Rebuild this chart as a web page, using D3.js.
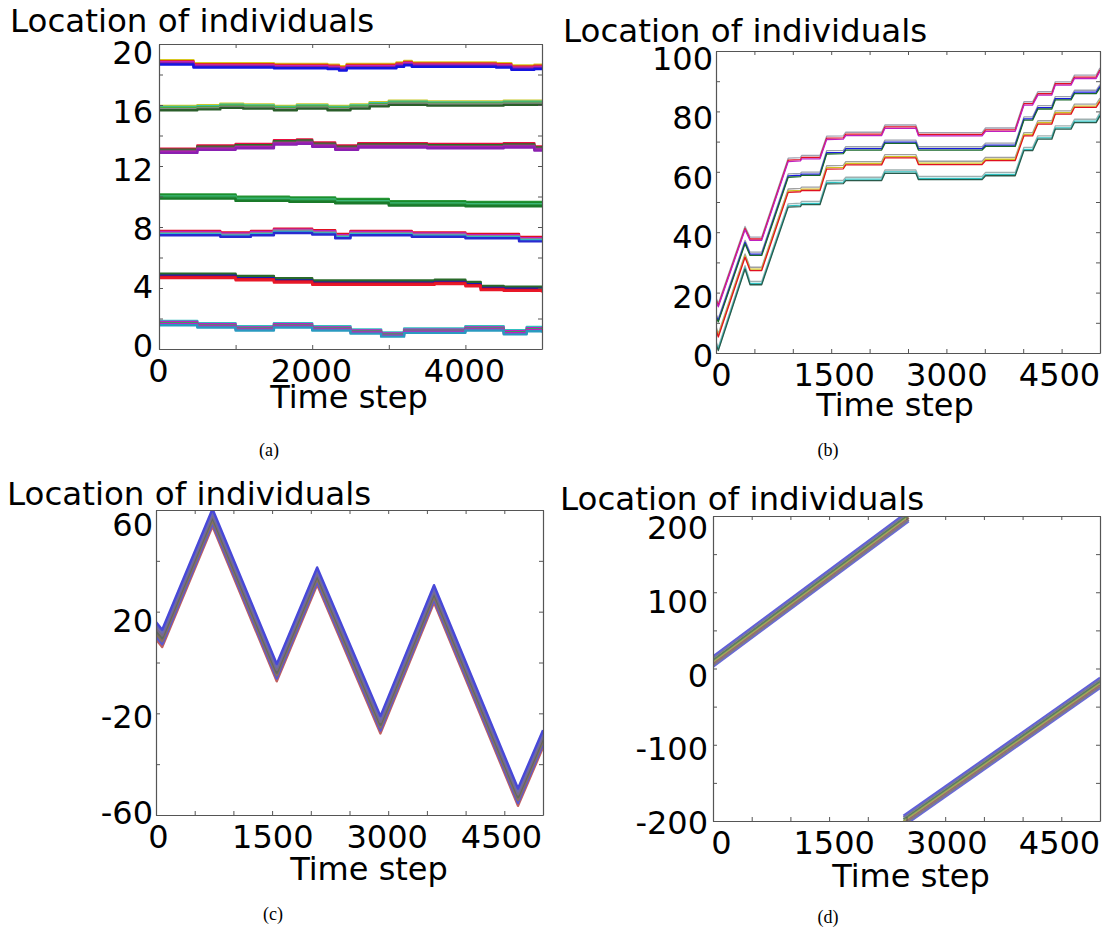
<!DOCTYPE html>
<html>
<head>
<meta charset="utf-8">
<script src="https://cdn.jsdelivr.net/npm/d3@7"></script>
<style>
  body { margin: 0; background: #fff; }
  svg { display: block; }
</style>
</head>
<body>
<svg id="fig" width="1107" height="934"></svg>
<script>
'use strict';

// ---- (a) seven groups drifting slowly: [time step, location] of each group ----
var groupA1 = [[0,18.8],[300,18.8],[450,18.6],[1500,18.55],[2200,18.5],[2350,18.4],[2450,18.55],[3100,18.65],[3200,18.75],[3300,18.65],[4400,18.6],[4600,18.45],[4900,18.5],[5000,18.55]];
var groupA2 = [[0,15.8],[500,15.85],[800,15.95],[1100,15.9],[1500,15.8],[1800,15.9],[2200,15.8],[2500,15.9],[2750,16.05],[3000,16.15],[3500,16.1],[4000,16.1],[4500,16.15],[5000,16.1]];
var groupA3 = [[0,13.0],[500,13.2],[1000,13.3],[1500,13.55],[1800,13.6],[2000,13.4],[2300,13.2],[2600,13.35],[3500,13.3],[4500,13.35],[4900,13.15],[5000,13.15]];
var groupA4 = [[0,10.0],[500,10.0],[1000,9.85],[1700,9.8],[2300,9.7],[3000,9.55],[4000,9.5],[5000,9.45]];
var groupA5 = [[0,7.6],[800,7.5],[1200,7.6],[1500,7.75],[2000,7.65],[2300,7.4],[2500,7.6],[3300,7.5],[4000,7.4],[4700,7.2],[5000,7.2]];
var groupA6 = [[0,4.8],[400,4.8],[1000,4.65],[1500,4.5],[2000,4.35],[3000,4.35],[3600,4.4],[4000,4.25],[4200,4.0],[4500,3.95],[5000,3.85]];
var groupA7 = [[0,1.7],[500,1.55],[1000,1.35],[1500,1.55],[2000,1.35],[2500,1.15],[2900,0.95],[3200,1.2],[4000,1.35],[4500,1.1],[4800,1.3],[5000,1.2]];
var groupsA = [groupA1, groupA2, groupA3, groupA4, groupA5, groupA6, groupA7];
// spread of the individuals inside one group (location units)
var spreadA = [0.14, 0.07, 0, -0.07, -0.14];

// ---- (b) four groups moving in steps ----
var groupB1 = [[0,17.5],[30,15.5],[378,41],[443,37.5],[595,37.5],[940,63.6],[1100,63.8],[1115,64.5],[1354,64.5],[1441,70.9],[1658,71],[1690,72.2],[2157,72.2],[2200,74.6],[2602,74.6],[2636,72.1],[3465,72.1],[3510,73.6],[3896,73.6],[4010,82.3],[4123,82.3],[4191,85.6],[4373,85.6],[4418,88.9],[4623,88.9],[4668,91.1],[4950,91.1],[5000,93.5]];
var groupB2 = [[0,12],[30,10.5],[378,36.4],[443,32.5],[595,32.5],[940,58.4],[1100,58.6],[1115,59],[1354,59],[1441,66.1],[1658,66.2],[1690,67.4],[2157,67.4],[2200,69.6],[2602,69.6],[2636,67.4],[3465,67.4],[3510,68.6],[3896,68.6],[4010,77.3],[4123,77.3],[4191,81],[4373,81],[4418,84],[4623,84],[4668,86.1],[4950,86.1],[5000,88]];
var groupB3 = [[0,8],[30,5.5],[378,31.9],[443,27.5],[595,27.5],[940,53.4],[1100,53.6],[1115,54],[1354,54],[1441,61.1],[1658,61.2],[1690,62.5],[2157,62.5],[2200,64.8],[2602,64.8],[2636,62.6],[3465,62.6],[3510,63.9],[3896,63.9],[4010,72.1],[4123,72.1],[4191,76],[4373,76],[4418,79.3],[4623,79.3],[4668,81.5],[4950,81.5],[5000,83.5]];
var groupB4 = [[0,3],[30,1],[378,28],[443,22.8],[595,22.8],[940,48.5],[1100,48.7],[1115,49.3],[1354,49.3],[1441,56.2],[1658,56.3],[1690,57.3],[2157,57.3],[2200,59.7],[2602,59.7],[2636,57.6],[3465,57.6],[3510,58.9],[3896,58.9],[4010,67.2],[4123,67.2],[4191,71],[4373,71],[4418,74.3],[4623,74.3],[4668,76.5],[4950,76.5],[5000,78.7]];
var groupsB = [groupB1, groupB2, groupB3, groupB4];
var spreadB = [0.9, 0.25, -0.2];

// ---- (c) one group zig-zagging ----
var groupC = [[0,12.5],[80,9.5],[730,57],[1560,-4],[2082,34],[2900,-24.5],[3592,27],[4677,-53],[5000,-30]];
var spreadC = [-3.4, -2.3, -1.1, 0, 1.1, 2.3, 3.4];

// ---- (d) one group travelling at constant speed, wrapping at +-200 ----
var groupD1 = [[0,9],[2530,200]];
var groupD2 = [[2460,-200],[5000,-19]];
var spreadD = [-7, -4.7, -2.3, 0, 2.3, 4.7, 7];

// ---- ticks ----
var ticksAx = [0, 1000, 2000, 3000, 4000, 5000];
var labelsAx = [0, 2000, 4000];
var ticksAy = [0, 2, 4, 6, 8, 10, 12, 14, 16, 18, 20];
var labelsAy = [0, 4, 8, 12, 16, 20];
var ticksX = [0, 500, 1000, 1500, 2000, 2500, 3000, 3500, 4000, 4500, 5000];
var labelsX = [0, 1500, 3000, 4500];
var ticksBy = [0, 10, 20, 30, 40, 50, 60, 70, 80, 90, 100];
var labelsBy = [0, 20, 40, 60, 80, 100];
var ticksCy = [-60, -40, -20, 0, 20, 40, 60];
var labelsCy = [-60, -20, 20, 60];
var ticksDy = [-200, -150, -100, -50, 0, 50, 100, 150, 200];
var labelsDy = [-200, -100, 0, 100, 200];

// ---- colours (styles, kept apart from the values) ----
var colorsA = [
    ['#d8c820', '#e03020', '#c020c0', '#8020a0', '#1515e0'],
    ['#c8c828', '#3cc0a8', '#4caa3c', '#8a8a8a', '#2a5e2a'],
    ['#e81040', '#2a6a2a', '#6a5a5a', '#b020b0', '#8a20b0'],
    ['#2a9a3a', '#1a8a2a', '#3cb87a', '#2a9a4a', '#1a7a2a'],
    ['#e01020', '#c020c0', '#8a8a8a', '#30b8c8', '#2a2ad0'],
    ['#2a6a2a', '#2a6a2a', '#1a1ab0', '#d81020', '#e81828'],
    ['#30c0c0', '#c020c0', '#3aa060', '#c020c0', '#2a9ac0']
];
var colorsB = [
    ['#a0a0b0', '#e01020', '#c020c0'],
    ['#9aa0aa', '#1a1ae0', '#1a6a2a'],
    ['#a0a0a0', '#d0c020', '#e01020'],
    ['#a0b0b0', '#30c0c0', '#2a5a4a']
];
var colorsC = ['#c06060', '#5a5ad0', '#8a7060', '#606a60', '#7a6a8a', '#6a6ab0', '#4848d8'];
var colorsD = ['#6a6ad8', '#7a7a88', '#9a6a6a', '#a0a858', '#5a805a', '#7a7a90', '#6060d8'];

var svg = d3.select('#fig');

function buildSeries (groups, spread, colors, width) {
    var out = [];
    groups.forEach(function (grp, gi) {
        spread.forEach(function (off, mi) {
            out.push({
                pts: grp,
                off: off,
                color: Array.isArray(colors[gi]) ? colors[gi][mi] : colors[mi],
                width: width
            });
        });
    });
    return out;
}

// labelX / labelY: where the first and last tick labels sit in the source
// picture (its labels are spread a little tighter than the ticks)
var panels = [
    {
        id: 'a', box: { l: 159, t: 44, r: 542, b: 349 },
        xDomain: [0, 5000], yDomain: [0, 20],
        xTicks: ticksAx, xLabels: labelsAx, yTicks: ticksAy, yLabels: labelsAy,
        labelX: [158, 464], labelY: [345, 52],
        yPad: 6, title: [10, 32], xlab: [349, 408], caption: ['(a)', 269, 456],
        curve: d3.curveStepAfter,
        series: buildSeries(groupsA, spreadA, colorsA, 2.4)
    },
    {
        id: 'b', box: { l: 716, t: 51, r: 1100, b: 353 },
        xDomain: [0, 5000], yDomain: [0, 100],
        xTicks: ticksX, xLabels: labelsX, yTicks: ticksBy, yLabels: labelsBy,
        labelX: [721, 1059], labelY: [355, 58],
        yPad: 3, title: [563, 42], xlab: [895, 416], caption: ['(b)', 828, 456],
        curve: d3.curveLinear,
        series: buildSeries(groupsB, spreadB, colorsB, 1.3)
    },
    {
        id: 'c', box: { l: 156, t: 510, r: 543, b: 815 },
        xDomain: [0, 5000], yDomain: [-60, 60],
        xTicks: ticksX, xLabels: labelsX, yTicks: ticksCy, yLabels: labelsCy,
        labelX: [158, 501], labelY: [812, 524],
        yPad: 3, title: [7, 505], xlab: [369, 880], caption: ['(c)', 273, 920],
        curve: d3.curveLinear,
        series: buildSeries([groupC], spreadC, colorsC, 2.4)
    },
    {
        id: 'd', box: { l: 713, t: 516, r: 1100, b: 821 },
        xDomain: [0, 5000], yDomain: [-200, 200],
        xTicks: ticksX, xLabels: labelsX, yTicks: ticksDy, yLabels: labelsDy,
        labelX: [721, 1059], labelY: [822, 527],
        yPad: 5, title: [560, 510], xlab: [911, 887], caption: ['(d)', 828, 923],
        curve: d3.curveLinear,
        series: buildSeries([groupD1, groupD2], spreadD, colorsD, 2)
    }
];

function labelIf (list) {
    return function (d) {
        return list.indexOf(d) >= 0 ? String(d) : '';
    };
}

function styleAxis (sel) {
    sel.attr('font-family', null).attr('font-size', null);
    sel.select('.domain').attr('stroke', '#555').attr('stroke-width', 1.2);
    sel.selectAll('.tick line').attr('stroke', '#555').attr('stroke-width', 1);
    sel.selectAll('.tick text')
        .attr('fill', '#000')
        .style('font-family', '"DejaVu Sans", sans-serif')
        .style('font-size', '32px');
}

function drawPanel (p) {
    var g = svg.append('g').attr('class', 'panel-' + p.id);
    var x = d3.scaleLinear().domain(p.xDomain).range([p.box.l, p.box.r]);
    var y = d3.scaleLinear().domain(p.yDomain).range([p.box.b, p.box.t]);
    var lx = d3.scaleLinear().domain(d3.extent(p.xLabels)).range(p.labelX);
    var ly = d3.scaleLinear().domain(d3.extent(p.yLabels)).range(p.labelY);

    svg.append('clipPath').attr('id', 'clip-' + p.id)
        .append('rect')
        .attr('x', p.box.l).attr('y', p.box.t)
        .attr('width', p.box.r - p.box.l).attr('height', p.box.b - p.box.t);

    var line = d3.line()
        .x(function (d) { return x(d[0]); })
        .y(function (d) { return y(d[1]); })
        .curve(p.curve);

    var lineLayer = g.append('g').attr('clip-path', 'url(#clip-' + p.id + ')');
    lineLayer.selectAll('path')
        .data(p.series)
        .enter()
        .append('path')
        .attr('fill', 'none')
        .attr('stroke', function (s) { return s.color; })
        .attr('stroke-width', function (s) { return s.width; })
        .attr('stroke-linejoin', 'round')
        .attr('d', function (s) {
            return line(s.pts.map(function (d) { return [d[0], d[1] + s.off]; }));
        });

    // inward ticks on all four sides, like the old matplotlib style
    g.append('g')
        .attr('transform', 'translate(0,' + p.box.b + ')')
        .call(d3.axisBottom(x).tickValues(p.xTicks).tickFormat(labelIf(p.xLabels))
            .tickSizeInner(-4).tickSizeOuter(0).tickPadding(10))
        .call(styleAxis)
        .selectAll('.tick text')
        .attr('x', function (d) { return lx(d) - x(d); });
    g.append('g')
        .attr('transform', 'translate(0,' + p.box.t + ')')
        .call(d3.axisTop(x).tickValues(p.xTicks).tickFormat('')
            .tickSizeInner(-4).tickSizeOuter(0))
        .call(styleAxis);
    g.append('g')
        .attr('transform', 'translate(' + p.box.l + ',0)')
        .call(d3.axisLeft(y).tickValues(p.yTicks).tickFormat(labelIf(p.yLabels))
            .tickSizeInner(-4).tickSizeOuter(0).tickPadding(p.yPad))
        .call(styleAxis)
        .selectAll('.tick text')
        .attr('y', function (d) { return ly(d) - y(d); })
        .attr('dy', '0.36em');
    g.append('g')
        .attr('transform', 'translate(' + p.box.r + ',0)')
        .call(d3.axisRight(y).tickValues(p.yTicks).tickFormat('')
            .tickSizeInner(-4).tickSizeOuter(0))
        .call(styleAxis);

    g.append('text')
        .attr('x', p.title[0]).attr('y', p.title[1])
        .style('font-family', '"DejaVu Sans", sans-serif')
        .style('font-size', '32.5px')
        .text('Location of individuals');

    g.append('text')
        .attr('x', p.xlab[0]).attr('y', p.xlab[1])
        .attr('text-anchor', 'middle')
        .style('font-family', '"DejaVu Sans", sans-serif')
        .style('font-size', '32px')
        .text('Time step');

    g.append('text')
        .attr('x', p.caption[1]).attr('y', p.caption[2])
        .attr('text-anchor', 'middle')
        .style('font-family', '"Liberation Serif", "Times New Roman", serif')
        .style('font-size', '18px')
        .text(p.caption[0]);
}

panels.forEach(drawPanel);
</script>
</body>
</html>
